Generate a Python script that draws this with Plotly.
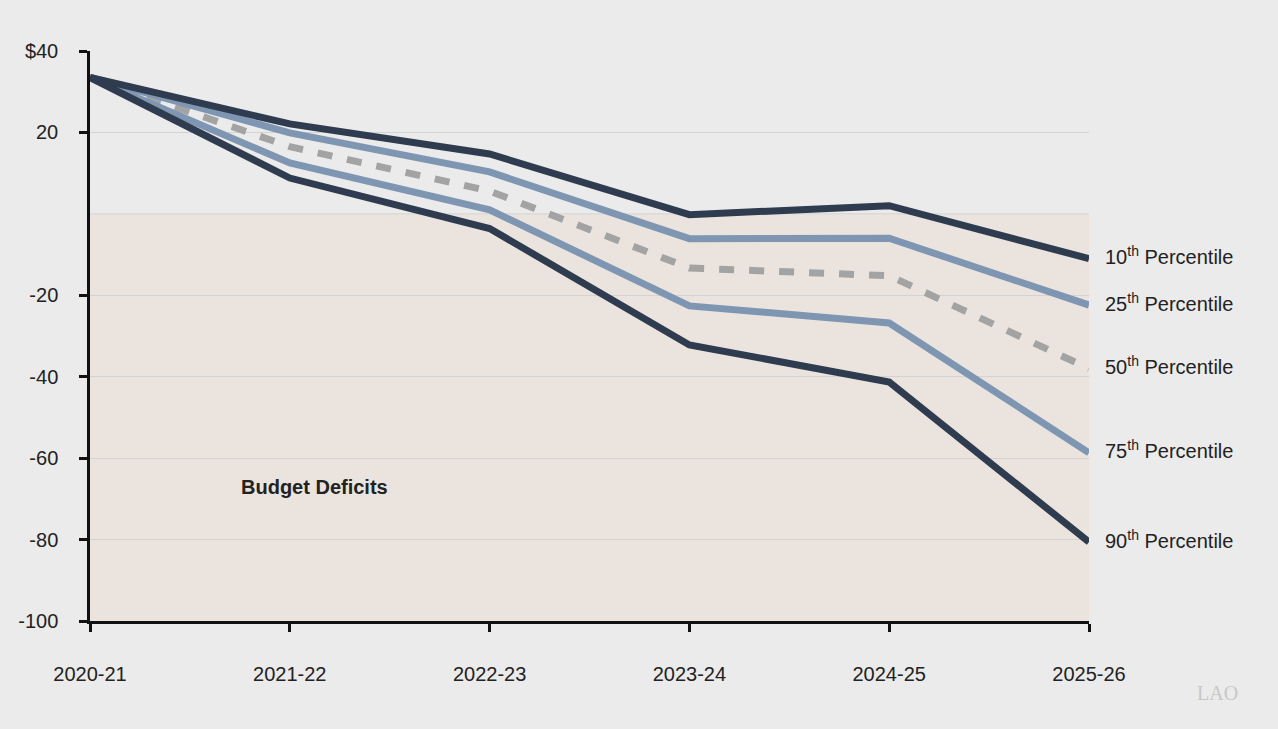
import plotly.graph_objects as go

# 预算盈余/赤字情景 (十亿美元)
years = ['2020-21', '2021-22', '2022-23', '2023-24', '2024-25', '2025-26']
p10 = [33.5, 22.1, 14.7, -0.2, 2.0, -11.0]
p25 = [33.5, 19.9, 10.3, -6.1, -6.0, -22.4]
p50 = [33.5, 16.5, 5.6, -13.3, -15.2, -38.0]
p75 = [33.5, 12.5, 1.0, -22.6, -26.8, -58.7]
p90 = [33.5, 8.8, -3.6, -32.2, -41.3, -80.6]

y_ticks = [40, 20, -20, -40, -60, -80, -100]
y_tick_text = ['$40', '20', '-20', '-40', '-60', '-80', '-100']

DARK = '#2f3b4f'
LIGHT = '#7f96b2'
GRAY = '#a3a3a3'
FONT = 'Liberation Sans, Arial, sans-serif'
TXT = '#222'

x = list(range(len(years)))

series = [
    ('50<sup>th</sup> Percentile', p50, GRAY, '15px,15px'),
    ('25<sup>th</sup> Percentile', p25, LIGHT, 'solid'),
    ('75<sup>th</sup> Percentile', p75, LIGHT, 'solid'),
    ('10<sup>th</sup> Percentile', p10, DARK, 'solid'),
    ('90<sup>th</sup> Percentile', p90, DARK, 'solid'),
]

fig = go.Figure()

# 赤字区域底色
fig.add_shape(type='rect', xref='x', yref='y', x0=0, x1=5, y0=-100, y1=0,
              fillcolor='#ebe4de', line_width=0, layer='below')
fig.add_shape(type='line', xref='x', yref='y', x0=0, x1=5, y0=0, y1=0,
              line=dict(color='#d3d3d3', width=1), layer='below')

for name, vals, color, dash in series:
    fig.add_trace(go.Scatter(
        x=x, y=vals, mode='lines', name=name,
        line=dict(color=color, width=7, dash=dash),
        showlegend=False, hoverinfo='skip',
    ))
    fig.add_annotation(x=5, y=vals[-1], xref='x', yref='y', text=name,
                       showarrow=False, xanchor='left', xshift=14, yshift=3,
                       font=dict(family=FONT, size=20, color=TXT))

fig.add_annotation(x=0.745, y=-67, xref='x', yref='y', text='<b>Budget Deficits</b>',
                   showarrow=False, xanchor='left',
                   font=dict(family=FONT, size=20, color=TXT))

# 角标
fig.add_annotation(x=1.151, y=-0.126, xref='paper', yref='paper', text='LAO',
                   showarrow=False, xanchor='right', yanchor='middle',
                   font=dict(family='Liberation Serif, serif', size=20, color='#c8c8c8'))

fig.update_xaxes(
    range=[0, 5], tickvals=x, ticktext=years,
    showgrid=False, zeroline=False,
    showline=True, linecolor='#111', linewidth=2.5,
    ticks='outside', ticklen=8, tickwidth=2.5, tickcolor='#111',
    ticklabelstandoff=25,
    tickfont=dict(family=FONT, size=20, color=TXT),
)
fig.update_yaxes(
    range=[-100, 40], tickvals=y_ticks, ticktext=y_tick_text,
    showgrid=True, gridcolor='#d3d3d3', gridwidth=1, zeroline=False,
    showline=True, linecolor='#111', linewidth=2.5,
    ticks='outside', ticklen=8, tickwidth=2.5, tickcolor='#111',
    ticklabelstandoff=17,
    tickfont=dict(family=FONT, size=20, color=TXT),
)

fig.update_layout(
    width=1278, height=729,
    paper_bgcolor='#ebebeb', plot_bgcolor='#ebebeb',
    margin=dict(l=90, r=189, t=51, b=108),
    showlegend=False,
)

fig.write_html('out.html', config={'displayModeBar': False},
               post_script="document.body.style.margin='0';")
